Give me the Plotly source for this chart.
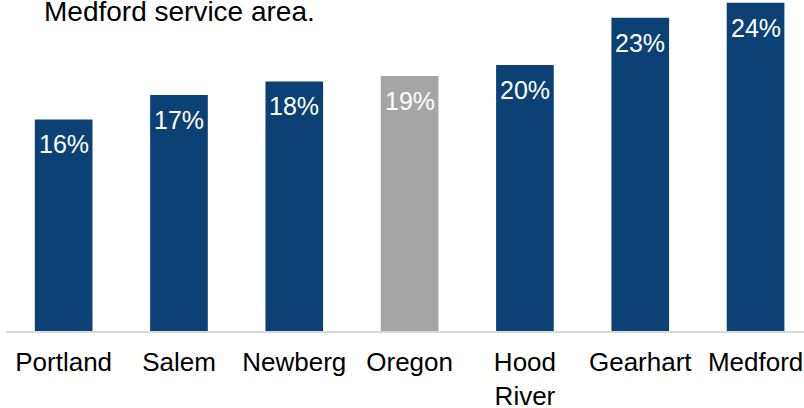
import plotly.graph_objects as go

categories = ["Portland", "Salem", "Newberg", "Oregon", "Hood<br>River", "Gearhart", "Medford"]
values = [15.6, 17.4, 18.4, 18.8, 19.6, 23.1, 24.2]
labels = ["16%", "17%", "18%", "19%", "20%", "23%", "24%"]
bar_colors = ["#0B4174", "#0B4174", "#0B4174", "#A5A5A5", "#0B4174", "#0B4174", "#0B4174"]
title_text = "Medford service area."

FONT = "Arial, 'Liberation Sans', sans-serif"

fig = go.Figure(go.Bar(
    x=categories,
    y=values,
    marker=dict(color=bar_colors, line=dict(width=0)),
    width=0.5,
    hoverinfo="skip",
))

annotations = [dict(
    text=title_text, xref="paper", yref="paper",
    x=(42 - 6) / 798, y=(331 + 6) / 331, xanchor="left", yanchor="top",
    showarrow=False, font=dict(size=28, family=FONT, color="black"),
)]
for c, v, t in zip(categories, values, labels):
    annotations.append(dict(
        x=c, y=v, xref="x", yref="y", text=t, showarrow=False,
        xanchor="center", yanchor="top", yshift=-9,
        font=dict(size=25, family=FONT, color="white"),
    ))

fig.update_layout(
    width=804, height=408,
    margin=dict(l=6, r=0, t=0, b=77, autoexpand=False),
    plot_bgcolor="white", paper_bgcolor="white",
    showlegend=False,
    font=dict(family=FONT, color="black"),
    annotations=annotations,
)
fig.update_xaxes(
    range=[-0.5, 6.42], automargin=False,
    showline=True, linecolor="#D9D9D9", linewidth=1.5,
    showgrid=False, ticks="", ticklabelstandoff=7,
    tickfont=dict(size=26, family=FONT, color="black"),
)
fig.update_yaxes(
    range=[0, 24.4], visible=False, showgrid=False, zeroline=False, automargin=False,
)

fig.write_html(
    "out.html",
    config={"displayModeBar": False},
    post_script="document.body.style.margin='0';document.body.style.padding='0';",
)
